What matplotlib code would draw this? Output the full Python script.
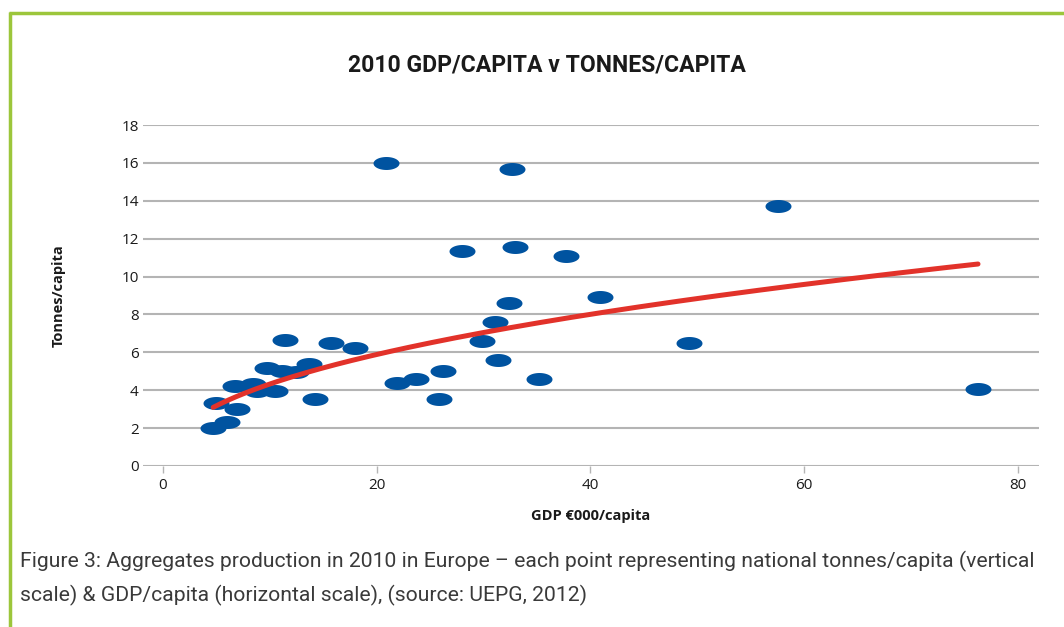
import numpy as np
import matplotlib
matplotlib.use("Agg")
import matplotlib.pyplot as plt
from matplotlib.path import Path
from matplotlib.lines import Line2D

# GDP (EUR 000/capita) and aggregates production (tonnes/capita), 2010
gdp = [4.7, 5.96, 4.96, 6.9, 6.74, 8.46, 8.77, 10.49, 9.7, 11.1, 12.5, 13.7,
       11.4, 14.2, 15.7, 18.0, 20.9, 21.9, 23.7, 25.8, 26.2, 28.0, 29.9, 31.1,
       31.4, 32.4, 32.7, 33.0, 35.2, 37.7, 40.9, 49.2, 57.6, 76.3]
tonnes = [2.02, 2.34, 3.31, 3.03, 4.24, 4.33, 3.98, 3.98, 5.19, 5.03, 4.94, 5.39,
          6.65, 3.55, 6.48, 6.25, 15.98, 4.38, 4.58, 3.55, 5.03, 11.33, 6.58, 7.62,
          5.61, 8.59, 15.68, 11.55, 4.59, 11.1, 8.94, 6.49, 13.71, 4.07]

x_ticks = [0, 20, 40, 60, 80]
y_ticks = [0, 2, 4, 6, 8, 10, 12, 14, 16, 18]

title = "2010 GDP/CAPITA v TONNES/CAPITA"
caption = ("Figure 3: Aggregates production in 2010 in Europe \u2013 each point representing "
           "national tonnes/capita (vertical\nscale) & GDP/capita (horizontal scale), "
           "(source: UEPG, 2012)")

narrow = ["Roboto", "DejaVu Sans"]
plain = ["Open Sans", "DejaVu Sans"]

fig = plt.figure(figsize=(10.64, 6.27), dpi=100)
ax = fig.add_axes([0.1344, 0.2568, 0.842, 0.5438])

# power trendline fitted to the points
b, log_a = np.polyfit(np.log(gdp), np.log(tonnes), 1)
tx = np.linspace(min(gdp), max(gdp), 200)
ty = np.exp(log_a) * tx ** b

# ellipse marker
t = np.linspace(0, 2 * np.pi, 60)
ell = Path(np.column_stack([np.cos(t), 0.5 * np.sin(t)]), closed=True)

ax.set_axisbelow(True)
ax.grid(axis="y", color="#b4b4b4", linewidth=1.5)
ax.scatter(gdp, tonnes, marker=ell, s=350, color="#0053a0", linewidths=0, zorder=3)
ax.plot(tx, ty, color="#e2322a", linewidth=3.6, solid_capstyle="round", zorder=4)

ax.set_xlim(-1.87, 82.0)
ax.set_ylim(0, 18)
ax.set_xticks(x_ticks)
ax.set_yticks(y_ticks)
for s in ax.spines.values():
    s.set_visible(False)
ax.tick_params(axis="y", length=0, pad=3, labelsize=11, labelcolor="#1a1a1a")
ax.tick_params(axis="x", length=5, width=1, color="#b4b4b4", pad=4, labelsize=11,
               labelcolor="#1a1a1a")
for lab in ax.get_xticklabels() + ax.get_yticklabels():
    lab.set_family(plain)

ax.set_xlabel("GDP \u20ac000/capita", family=plain, fontsize=10.5, fontweight="bold",
              color="#1a1a1a", labelpad=11)
ax.set_ylabel("Tonnes/capita", family=plain, fontsize=10.5, fontweight="bold",
              color="#1a1a1a", labelpad=40)

fig.text(547 / 1064, 1 - 65 / 627, title, family=narrow, fontsize=16.6, fontweight="bold",
         ha="center", va="center", color="#1a1a1a")
fig.text(20 / 1064, 1 - 551 / 627, caption, family=narrow, fontsize=15.2, color="#3a3a3a",
         ha="left", va="top", linespacing=1.8)

# green frame (top and left edges)
green = "#9cc63b"
fig.add_artist(Line2D([9 / 1064, 1], [1 - 13 / 627] * 2, transform=fig.transFigure,
                      color=green, linewidth=2.5, solid_capstyle="butt"))
fig.add_artist(Line2D([10 / 1064] * 2, [0, 1 - 12 / 627], transform=fig.transFigure,
                      color=green, linewidth=2.5, solid_capstyle="butt"))

fig.savefig("out.png", dpi=100)
